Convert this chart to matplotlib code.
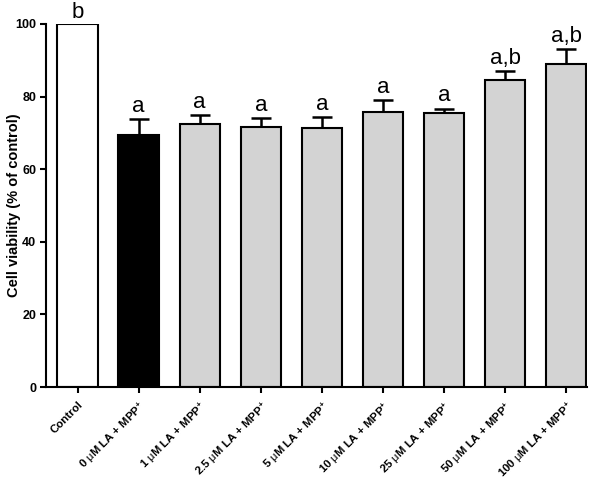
import matplotlib
matplotlib.use("Agg")
import matplotlib.pyplot as plt
import numpy as np

categories = ["Control", "0 $\\mu$M LA + MPP$^{+}$", "1 $\\mu$M LA + MPP$^{+}$",
              "2.5 $\\mu$M LA + MPP$^{+}$", "5 $\\mu$M LA + MPP$^{+}$",
              "10 $\\mu$M LA + MPP$^{+}$", "25 $\\mu$M LA + MPP$^{+}$",
              "50 $\\mu$M LA + MPP$^{+}$", "100 $\\mu$M LA + MPP$^{+}$"]
values = [100, 69.4, 72.4, 71.6, 71.3, 75.8, 75.4, 84.5, 88.9]
errors = [0, 4.3, 2.4, 2.4, 3.0, 3.2, 1.3, 2.6, 4.2]
letters = ["b", "a", "a", "a", "a", "a", "a", "a,b", "a,b"]
colors = ["white", "black"] + ["#d3d3d3"] * 7

plt.rcParams['font.family'] = ['Liberation Sans', 'DejaVu Sans']
plt.rcParams['mathtext.fontset'] = 'custom'
plt.rcParams['mathtext.rm'] = 'Liberation Sans:bold'
plt.rcParams['mathtext.it'] = 'Liberation Sans'
plt.rcParams['mathtext.bf'] = 'Liberation Sans:bold'

fig = plt.figure(figsize=(6, 4.8), dpi=100)
ax = fig.add_axes([46/600, 1-387/480, (587-46)/600, (387-24)/480])

x = np.arange(len(categories))
ax.bar(x, values, width=0.66, color=colors, edgecolor="black", linewidth=1.5, zorder=2)
ax.errorbar(x[1:], values[1:], yerr=[np.zeros(len(x)-1), errors[1:]], fmt='none',
            ecolor='black', elinewidth=1.8, capsize=7, capthick=1.8, zorder=1)

for xi, v, e, t in zip(x, values, errors, letters):
    off = 0.6 if e > 0 else 0.3
    ax.text(xi, v + e + off, t, ha='center', va='bottom', fontsize=16, clip_on=False)

ax.set_xlim(-0.516, 8.34)
ax.set_ylim(0, 100)
ax.set_yticks([0, 20, 40, 60, 80, 100])
ax.set_xticks(x)
ax.set_xticklabels(categories, rotation=45, ha='right', rotation_mode='anchor',
                   fontsize=8.2, fontweight='bold')
for lbl in ax.get_yticklabels():
    lbl.set_fontweight('bold')
    lbl.set_fontsize(9)
ax.set_ylabel("Cell viability (% of control)", fontsize=10.5, fontweight='bold')
ax.yaxis.set_label_coords(-0.047, 0.5)
ax.spines['top'].set_visible(False)
ax.spines['right'].set_visible(False)
for s in ['left', 'bottom']:
    ax.spines[s].set_linewidth(1.5)
ax.tick_params(width=1.5, length=4)
ax.tick_params(axis='x', pad=5)
ax.tick_params(axis='y', pad=3)
ax.spines['left'].set_bounds(0, 100)

fig.savefig("out.png", dpi=100)
